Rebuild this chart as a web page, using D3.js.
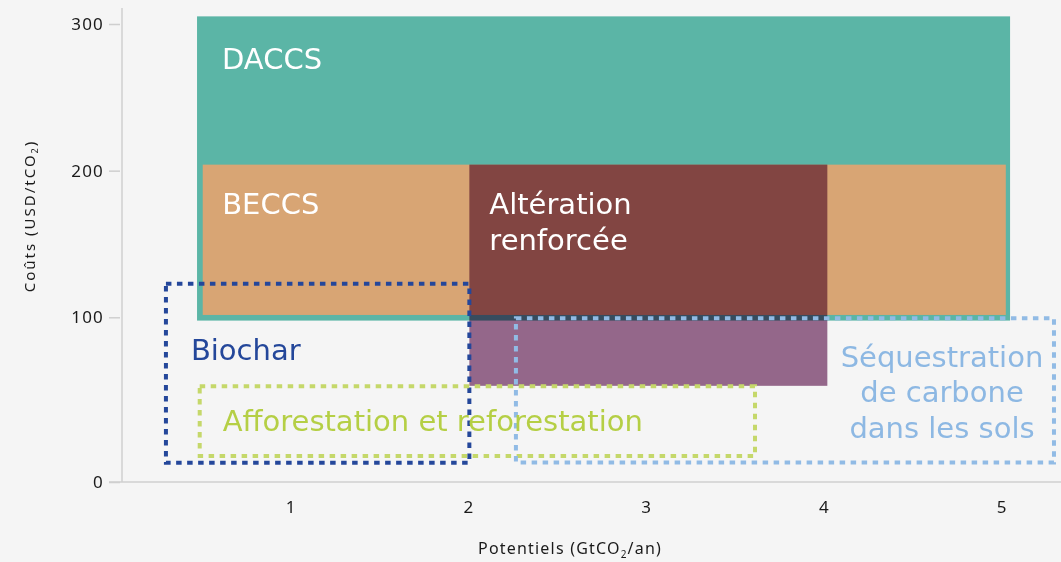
<!DOCTYPE html>
<html><head><meta charset="utf-8">
<script src="https://cdn.jsdelivr.net/npm/d3@7"></script>
<style>
body{margin:0;background:#f5f5f5}
svg{display:block}
</style>
</head><body><svg id="c" width="1061" height="562"></svg>
<script>
// ---- data ----
const xTicks = [1, 2, 3, 4, 5];
const yTicks = [0, 100, 200, 300];
const solidNames = ["DACCS", "BECCS", "Altération renforcée"];
const solidX0 = [0.477, 0.509, 2.009];
const solidX1 = [5.051, 5.027, 4.023];
const solidY0 = [98, 101.6, 58.4];
const solidY1 = [305.2, 204.1, 204.1];
const dottedNames = ["Biochar", "Afforestation et reforestation", "Séquestration de carbone dans les sols"];
const dottedX0 = [0.302, 0.492, 2.271];
const dottedX1 = [2.009, 3.616, 5.298];
const dottedY0 = [11.7, 15.8, 11.9];
const dottedY1 = [122.8, 58.2, 99.4];

// ---- styles / layout ----
const FONT = "'Noto Sans', 'Open Sans', sans-serif";
const LFONT = "'DejaVu Sans', 'Noto Sans', sans-serif";
const solidColors = ["#5bb5a6", "#d8a574", "#9a6b90"];
const solidBlend = ["normal", "normal", "multiply"];
const dottedColors = ["#24479a", "#c5d86a", "#91bbe5"];
const dottedText = ["#24479a", "#b5cf45", "#8db8e3"];

const svg = d3.select("#c");
const x = d3.scaleLinear().domain([1, 5]).range([290, 1001]);
const y = d3.scaleLinear().domain([0, 100, 300]).range([482, 317.3, 24]);

svg.append("rect").attr("width", 1061).attr("height", 562).attr("fill", "#f5f5f5");

// axes
const axisCol = "#cfcfcf";
svg.append("line").attr("x1", 122).attr("x2", 122).attr("y1", 8).attr("y2", y(0)).attr("stroke", axisCol).attr("stroke-width", 1.5);
svg.append("line").attr("x1", 109).attr("x2", 1061).attr("y1", y(0)).attr("y2", y(0)).attr("stroke", axisCol).attr("stroke-width", 1.5);

const yAxis = d3.axisLeft(y).tickValues(yTicks).tickSize(11).tickPadding(5).tickFormat(d3.format("d"));
const gy = svg.append("g").attr("transform", "translate(120,0)").call(yAxis);
gy.select(".domain").remove();
gy.selectAll(".tick line").attr("stroke", axisCol).attr("stroke-width", 1.5);
gy.selectAll(".tick text").attr("font-family", FONT).attr("font-size", 17).attr("letter-spacing", 1.2).attr("fill", "#1a1a1a");

const xAxis = d3.axisBottom(x).tickValues(xTicks).tickSize(0).tickPadding(19).tickFormat(d3.format("d"));
const gx = svg.append("g").attr("transform", `translate(0,${y(0)})`).call(xAxis);
gx.select(".domain").remove();
gx.selectAll(".tick text").attr("font-family", FONT).attr("font-size", 17).attr("fill", "#1a1a1a");

// axis titles
const xt = svg.append("text").attr("x", 570).attr("y", 554).attr("text-anchor", "middle")
  .attr("font-family", FONT).attr("font-size", 16).attr("letter-spacing", 1.2).attr("fill", "#1a1a1a");
xt.append("tspan").text("Potentiels (GtCO");
xt.append("tspan").attr("font-size", 10).attr("dy", 4).text("2");
xt.append("tspan").attr("dy", -4).text("/an)");

const yt = svg.append("text").attr("transform", "translate(35,216) rotate(-90)").attr("text-anchor", "middle")
  .attr("font-family", FONT).attr("font-size", 15).attr("letter-spacing", 2).attr("fill", "#1a1a1a");
yt.append("tspan").text("Coûts (USD/tCO");
yt.append("tspan").attr("font-size", 9).attr("dy", 3).text("2");
yt.append("tspan").attr("dy", -3).text(")");

// solid rects
solidNames.forEach((n, i) => {
  svg.append("rect")
    .attr("x", x(solidX0[i])).attr("width", x(solidX1[i]) - x(solidX0[i]))
    .attr("y", y(solidY1[i])).attr("height", y(solidY0[i]) - y(solidY1[i]))
    .attr("fill", solidColors[i]).style("mix-blend-mode", solidBlend[i]);
});

// dotted rects
dottedNames.forEach((n, i) => {
  svg.append("rect")
    .attr("x", x(dottedX0[i])).attr("width", x(dottedX1[i]) - x(dottedX0[i]))
    .attr("y", y(dottedY1[i])).attr("height", y(dottedY0[i]) - y(dottedY1[i]))
    .attr("fill", "none").attr("stroke", dottedColors[i]).attr("stroke-width", 4)
    .attr("stroke-dasharray", "5.5 5.5");
});

// labels
const LS = 29;
function label(lines, px, py, color, anchor, ls) {
  const t = svg.append("text").attr("font-family", LFONT).attr("font-size", LS)
    .attr("letter-spacing", ls || 0)
    .attr("fill", color).attr("text-anchor", anchor || "start");
  lines.forEach((l, k) => t.append("tspan").attr("x", px).attr("y", py + k * 35.5).text(l));
}
label(["DACCS"], x(solidX0[0]) + 25, y(solidY1[0]) + 53, "#ffffff");
label(["BECCS"], x(solidX0[1]) + 19.5, y(solidY1[1]) + 49.5, "#ffffff");
label(["Altération", "renforcée"], x(solidX0[2]) + 20, y(solidY1[2]) + 49.5, "#ffffff");
label(["Biochar"], x(dottedX0[0]) + 25, y(dottedY1[0]) + 76, dottedText[0]);
label(["Afforestation et reforestation"], x(dottedX0[1]) + 23, y(dottedY1[1]) + 45, dottedText[1]);
label(["Séquestration", "de carbone", "dans les sols"], 942, y(dottedY1[2]) + 48.5, dottedText[2], "middle");
</script>
</body></html>
